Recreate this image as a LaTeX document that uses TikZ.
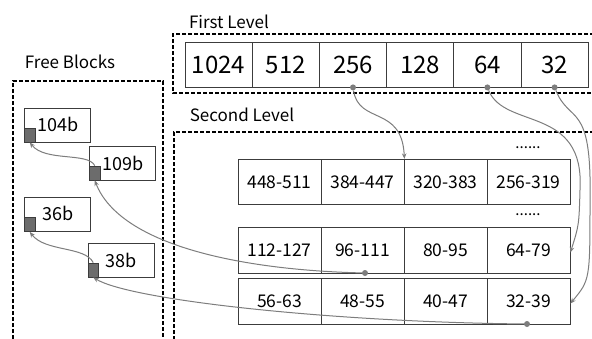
\documentclass[tikz,border=0pt]{standalone}
\usepackage{fontspec}
\setmainfont{Noto Sans CJK JP}
\usetikzlibrary{arrows.meta}
\definecolor{ln}{RGB}{125,125,125}
\definecolor{bd}{RGB}{60,60,60}
\tikzset{
  grp/.style={draw=black,line width=1.3pt,dash pattern=on 4pt off 2pt},
  lvl/.style={font=\fontsize{17}{17}\selectfont,anchor=center,inner sep=0pt},
  fcell/.style={draw=bd,line width=0.8pt,minimum width=67.2pt,minimum height=45pt,inner sep=0pt,font=\fontsize{24}{24}\selectfont},
  scell/.style={draw=bd,line width=0.8pt,minimum width=83pt,minimum height=45.5pt,inner sep=0pt,font=\fontsize{17.5}{17.5}\selectfont},
  blk/.style={draw=bd,line width=0.8pt,minimum width=66pt,minimum height=34pt,inner sep=0pt},
  sq/.style={draw=bd,fill=gray!85!black,line width=0.8pt,minimum width=10.5pt,minimum height=14pt,inner sep=0pt,anchor=south west},
  btxt/.style={font=\fontsize{18}{18}\selectfont,inner sep=0pt},
  ptr/.style={draw=ln,line width=1pt,-{Stealth[length=5.5pt,width=4.5pt]}},
  dot/.style={circle,fill=ln,inner sep=0pt,minimum size=6pt},
  dots/.style={font=\fontsize{15}{15}\selectfont,inner sep=0pt}
}
\begin{document}
\begin{tikzpicture}[x=1pt,y=-1pt]
\useasboundingbox (0,0) rectangle (592,338);
% group frames
\draw[grp] (13,345) -- (13,81) -- (163,81) -- (163,345);
\draw[grp] (600,34) -- (173,34) -- (173,93) -- (600,93);
\draw[grp] (600,132) -- (174,132) -- (174,345);
\node[lvl] (lfree) at (70,62) {Free Blocks};
\node[lvl] (lfirst) at (229,22) {First Level};
\node[lvl] (lsecond) at (242,115) {Second Level};
% first level
\foreach \t [count=\i from 0] in {1024,512,256,128,64,32}
  \node[fcell] (f\i) at ({218.6+67.2*\i},64.5) {\t};
% second level
\foreach \t [count=\i from 0] in {448-511,384-447,320-383,256-319}
  \node[scell] (a\i) at ({279.5+83*\i},182) {\t};
\foreach \t [count=\i from 0] in {112-127,96-111,80-95,64-79}
  \node[scell] (b\i) at ({279.5+83*\i},250.5) {\t};
\foreach \t [count=\i from 0] in {56-63,48-55,40-47,32-39}
  \node[scell] (c\i) at ({279.5+83*\i},301.5) {\t};
\node[dots] (e1) at (528,148) {......};
\node[dots] (e2) at (528,215) {......};
% free blocks
\node[blk] (k104) at (57.5,125) {};
\node[sq] (s104) at (k104.south west) {};
\node[btxt] (t104) at (58,124) {104b};
\node[blk] (k109) at (122.5,163) {};
\node[sq] (s109) at (k109.south west) {};
\node[btxt] (t109) at (123,163) {109b};
\node[blk] (k36) at (57.5,214.5) {};
\node[sq] (s36) at (k36.south west) {};
\node[btxt] (t36) at (58,213) {36b};
\node[blk] (k38) at (121,260) {};
\node[sq] (s38) at (k38.south west) {};
\node[btxt] (t38) at (121,260) {38b};
% dots
\node[dot] (d256) at (f2.south) {};
\node[dot] (d64) at (f4.south) {};
\node[dot] (d32) at (f5.south) {};
\node[dot] (dr2) at (365,273) {};
\node[dot] (dr3) at (527,324) {};
\coordinate (p64) at ([yshift=-2pt]b3.east);
\coordinate (p32) at ([yshift=-2pt]c3.east);
% pointers
\draw[ptr] (d256) .. controls (359,125) and (402,105) .. (a1.north east);
\draw[ptr] (d64) .. controls (505,130) and (585,105) .. (580,190) .. controls (579,225) .. (p64);
\draw[ptr] (d32) .. controls (570,125) and (592,100) .. (590,200) .. controls (590,280) .. (p32);
\draw[ptr] (dr2) .. controls (240,270) and (120,245) .. (s109.south);
\draw[ptr] (dr3) .. controls (330,322) and (130,300) .. (s38.south);
\draw[ptr] (s109.north) .. controls (88,152) and (45,162) .. (s104.south);
\draw[ptr] (s38.north) .. controls (85,246) and (45,252) .. (s36.south);
\end{tikzpicture}
\end{document}
